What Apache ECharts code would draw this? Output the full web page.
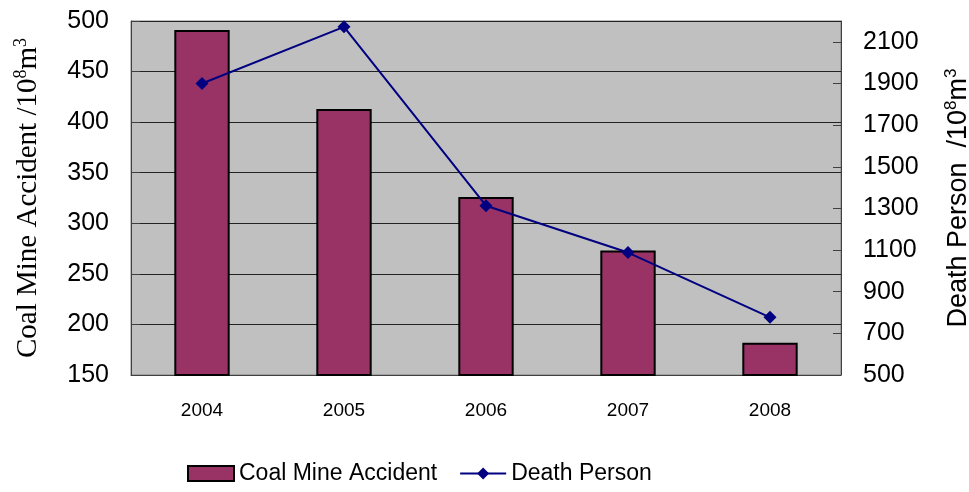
<!DOCTYPE html>
<html>
<head>
<meta charset="utf-8">
<script src="https://cdn.jsdelivr.net/npm/echarts@6/dist/echarts.min.js"></script>
<style>
  html, body { margin: 0; padding: 0; background: #fff; }
  #chart { width: 969px; height: 492px; }
</style>
</head>
<body>
<div id="chart"></div>
<script>
// values
const years = ['2004', '2005', '2006', '2007', '2008']
const coalMineAccident = [491, 413, 326, 273, 182]
const deathPerson = [1900, 2172, 1313, 1088, 777]

const chart = echarts.init(document.getElementById('chart'), null, { renderer: 'canvas' })

const supRich = (family, size) => ({
    a: { fontFamily: family, fontSize: size, color: '#000' },
    s: { fontFamily: family, fontSize: Math.round(size * 0.62), color: '#000', verticalAlign: 'top', padding: [0, 0, 14, 0] }
})

const option = {
    animation: false,
    grid: {
        left: 131,
        right: 128,
        top: 21,
        bottom: 117,
        outerBoundsMode: 'none',
        containLabel: false,
        show: true,
        backgroundColor: '#c0c0c0',
        borderColor: '#808080',
        borderWidth: 1
    },
    legend: {
        bottom: 2,
        left: 182,
        itemWidth: 46,
        itemHeight: 15,
        itemGap: 22,
        textStyle: { fontFamily: 'Liberation Sans', fontSize: 23, color: '#000' },
        data: [{ name: 'Coal Mine Accident', icon: 'rect' }, 'Death Person']
    },
    xAxis: {
        type: 'category',
        data: years,
        axisLine: { lineStyle: { color: '#404040', width: 1 } },
        axisTick: { inside: true, length: 5, lineStyle: { color: '#404040' } },
        axisLabel: { fontFamily: 'Liberation Sans', fontSize: 19, color: '#000', margin: 26 }
    },
    yAxis: [
        {
            type: 'value',
            min: 150,
            max: 500,
            interval: 50,
            position: 'left',
            name: '{a|Coal Mine Accident /10}{s|8}{a|m}{s|3}',
            nameLocation: 'middle',
            nameRotate: 90,
            nameGap: 87,
            nameTextStyle: { rich: supRich('Liberation Serif', 29) },
            axisLine: { show: true, lineStyle: { color: '#404040' } },
            axisTick: { show: true, inside: true, length: 9, lineStyle: { color: '#404040' } },
            axisLabel: { fontFamily: 'Liberation Sans', fontSize: 25, color: '#000', margin: 22 },
            splitLine: { show: true, lineStyle: { color: '#222', width: 1 } }
        },
        {
            type: 'value',
            min: 500,
            max: 2200,
            interval: 200,
            position: 'right',
            name: '{a|Death Person  /10}{s|8}{a|m}{s|3}',
            nameLocation: 'middle',
            nameRotate: 90,
            nameGap: 102,
            nameTextStyle: { rich: supRich('Liberation Sans', 27) },
            axisLine: { show: true, lineStyle: { color: '#404040' } },
            axisTick: { show: true, inside: true, length: 8, lineStyle: { color: '#404040' } },
            axisLabel: {
                fontFamily: 'Liberation Sans', fontSize: 25, color: '#000', margin: 22,
                showMaxLabel: false,
                formatter: (v) => String(v)
            },
            splitLine: { show: false }
        }
    ],
    series: [
        {
            name: 'Coal Mine Accident',
            type: 'bar',
            yAxisIndex: 0,
            data: coalMineAccident,
            barWidth: '39%',
            itemStyle: { color: '#993366', borderColor: '#000', borderWidth: 2 }
        },
        {
            name: 'Death Person',
            type: 'line',
            yAxisIndex: 1,
            data: deathPerson,
            symbol: 'diamond',
            symbolSize: 13,
            lineStyle: { color: '#000080', width: 2 },
            itemStyle: { color: '#000080' }
        }
    ]
}

chart.setOption(option)
</script>
</body>
</html>
